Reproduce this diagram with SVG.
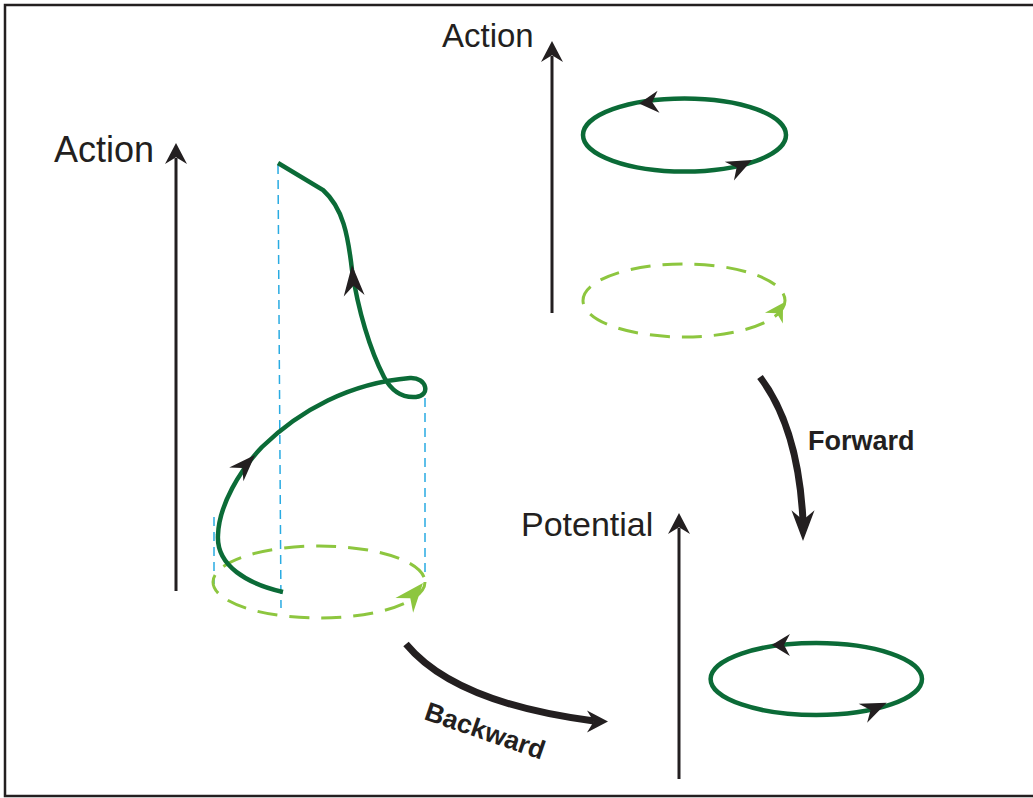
<svg xmlns="http://www.w3.org/2000/svg" xmlns:xlink="http://www.w3.org/1999/xlink" width="1033" height="798" viewBox="0 0 1033 798">
<style>
.lbl{font-family:"Liberation Sans",Arial,sans-serif;fill:#231f20}
.bold{font-weight:bold}
.axis{stroke:#231f20;stroke-width:3;fill:none}
.orbit{stroke:#0b6b37;stroke-width:4.5;fill:none}
.dash{stroke:#8dc63f;stroke-width:3;fill:none;stroke-dasharray:20 12}
.guide{stroke:#29abe2;stroke-width:1.5;fill:none;stroke-dasharray:9 6}
.flow{stroke:#231f20;stroke-width:7;fill:none}
.hk{fill:#231f20}
.hg{fill:#8dc63f}
</style>
<defs>
<path id="head" d="M0,0 L-28,-11 L-19,0 L-28,11 Z"/>
</defs>
<rect x="5" y="5" width="1040" height="791" fill="#fff" stroke="#231f20" stroke-width="2.5"/>

<g id="axis-left">
<line class="axis" x1="176" y1="591" x2="176" y2="158"/>
<use href="#head" class="hk" transform="translate(176,143) rotate(-90) scale(0.75,1)"/>
<text class="lbl" x="54" y="162" font-size="36">Action</text>
</g>

<g id="axis-top">
<line class="axis" x1="552" y1="313" x2="552" y2="56"/>
<use href="#head" class="hk" transform="translate(552,41) rotate(-90) scale(0.75,1)"/>
<text class="lbl" x="442" y="47" font-size="33">Action</text>
</g>

<g id="axis-potential">
<line class="axis" x1="679" y1="779" x2="679" y2="528"/>
<use href="#head" class="hk" transform="translate(679,513) rotate(-90) scale(0.75,1)"/>
<text class="lbl" x="521" y="536" font-size="34">Potential</text>
</g>

<g id="spiral">
<line class="guide" x1="278" y1="165" x2="281" y2="608"/>
<line class="guide" x1="425" y1="398" x2="425" y2="578"/>
<line class="guide" x1="214" y1="517" x2="214" y2="584"/>
<ellipse class="dash" cx="319" cy="582" rx="106" ry="36"/>
<use href="#head" class="hg" transform="translate(423,583) rotate(-50) scale(1.04,1.05)"/>
<path class="orbit" d="M283,592 C248,584 216,566 218,535 C219,505 240,470 262,447 C300,410 350,383 410,378 C427,377 431,396 416,397 C403,398 392,392 384,377 C370,350 358,310 352,270 C348,235 343,208 323,190 L278,163"/>
<use href="#head" class="hk" transform="translate(255,455) rotate(-46) scale(0.96,0.9)"/>
<use href="#head" class="hk" transform="translate(352,265) rotate(-94) scale(1.1,0.95)"/>
</g>

<g id="orbit-top">
<ellipse class="orbit" cx="684.5" cy="135" rx="101.5" ry="36.5"/>
<use href="#head" class="hk" transform="translate(639,103.5) rotate(175) scale(0.7,1)"/>
<use href="#head" class="hk" transform="translate(752,160) rotate(-26) scale(0.9,0.95)"/>
</g>

<g id="orbit-dashed-top">
<ellipse class="dash" cx="684" cy="300.5" rx="101" ry="36.5"/>
<use href="#head" class="hg" transform="translate(783,303) rotate(-59) scale(0.63,0.95)"/>
</g>

<g id="orbit-bottom">
<ellipse class="orbit" cx="816.3" cy="679" rx="105.7" ry="36"/>
<use href="#head" class="hk" transform="translate(771.7,645) rotate(180) scale(0.65,1)"/>
<use href="#head" class="hk" transform="translate(886.7,702.7) rotate(-24) scale(0.93,0.95)"/>
</g>

<g id="connectors">
<path class="flow" d="M760,377 C785,410 800,460 803,521"/>
<use href="#head" class="hk" transform="translate(803,541) rotate(90) scale(1.1,1.05)"/>
<path class="flow" d="M406,644 Q455,703 594,721"/>
<use href="#head" class="hk" transform="translate(608,721.5) rotate(0) scale(0.75,1)"/>
<text class="lbl bold" x="808" y="450" font-size="27">Forward</text>
<text class="lbl bold" font-size="26.5" transform="translate(423,719) rotate(19)">Backward</text>
</g>
</svg>
